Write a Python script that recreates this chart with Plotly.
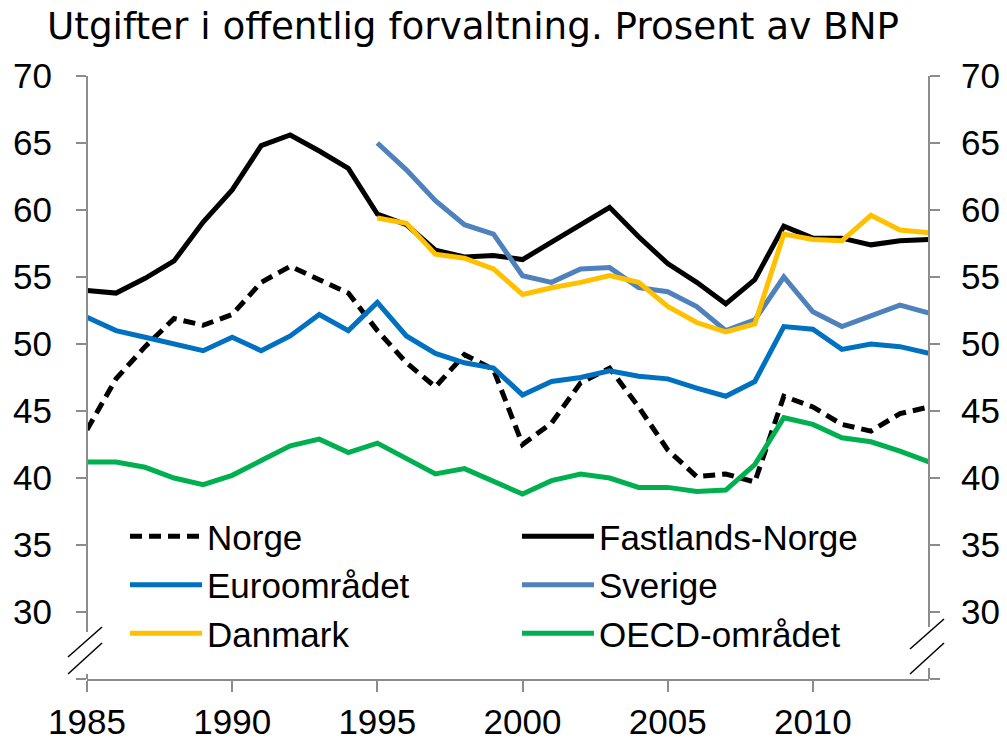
import plotly.graph_objects as go

years = list(range(1985, 2015))
years_95 = list(range(1995, 2015))

norge = [43.6, 47.4, 49.8, 51.9, 51.4, 52.2, 54.6, 55.8, 54.8, 53.8,
         51.0, 48.6, 46.8, 49.2, 48.1, 42.5, 44.1, 47.1, 48.2, 45.3,
         42.1, 40.1, 40.3, 39.7, 46.1, 45.3, 44.0, 43.5, 44.8, 45.3]
fastland = [54.0, 53.8, 54.9, 56.2, 59.1, 61.5, 64.8, 65.6, 64.4, 63.1,
            59.7, 58.9, 57.0, 56.5, 56.6, 56.3, 57.6, 58.9, 60.2, 58.0,
            56.0, 54.6, 53.0, 54.8, 58.8, 57.9, 57.9, 57.4, 57.7, 57.8]
euro = [52.0, 51.0, 50.5, 50.0, 49.5, 50.5, 49.5, 50.6, 52.2, 51.0,
        53.1, 50.6, 49.3, 48.6, 48.2, 46.2, 47.2, 47.5, 48.0, 47.6,
        47.4, 46.7, 46.1, 47.2, 51.3, 51.1, 49.6, 50.0, 49.8, 49.3]
sverige = [65.0, 63.0, 60.7, 58.9, 58.2, 55.1, 54.6, 55.6, 55.7, 54.2,
           53.9, 52.8, 51.0, 51.8, 55.0, 52.4, 51.3, 52.1, 52.9, 52.3]
danmark = [59.4, 59.0, 56.7, 56.4, 55.6, 53.7, 54.2, 54.6, 55.1, 54.6,
           52.8, 51.6, 50.9, 51.5, 58.2, 57.8, 57.7, 59.6, 58.5, 58.3]
oecd = [41.2, 41.2, 40.8, 40.0, 39.5, 40.2, 41.3, 42.4, 42.9, 41.9,
        42.6, 41.5, 40.3, 40.7, 39.7, 38.8, 39.8, 40.3, 40.0, 39.3,
        39.3, 39.0, 39.1, 41.0, 44.5, 44.0, 43.0, 42.7, 42.0, 41.2]

title_text = "Utgifter i offentlig forvaltning. Prosent av BNP"
y_tickvals = [25, 30, 35, 40, 45, 50, 55, 60, 65, 70]
y_ticktext = ["", "30", "35", "40", "45", "50", "55", "60", "65", "70"]
x_tickvals = [1985, 1990, 1995, 2000, 2005, 2010]

AXC = "#8c8c8c"
LW = 5
OFF = 8  # page body margin
W, H = 1007 - OFF, 739 - OFF

fig = go.Figure()
fig.add_trace(go.Scatter(x=years, y=norge, name="Norge", mode="lines",
                         line=dict(color="black", width=LW, dash="12px,7px")))
fig.add_trace(go.Scatter(x=years, y=fastland, name="Fastlands-Norge", mode="lines",
                         line=dict(color="black", width=LW)))
fig.add_trace(go.Scatter(x=years, y=euro, name="Euroområdet", mode="lines",
                         line=dict(color="#0070C0", width=LW)))
fig.add_trace(go.Scatter(x=years_95, y=sverige, name="Sverige", mode="lines",
                         line=dict(color="#4F81BD", width=LW)))
fig.add_trace(go.Scatter(x=years_95, y=danmark, name="Danmark", mode="lines",
                         line=dict(color="#FFC000", width=LW)))
fig.add_trace(go.Scatter(x=years, y=oecd, name="OECD-området", mode="lines",
                         line=dict(color="#00B050", width=LW)))
# dummy trace for right axis
fig.add_trace(go.Scatter(x=[years[0]], y=[None], yaxis="y2", showlegend=False,
                         hoverinfo="skip", mode="lines"))

tickfont = dict(family="Liberation Sans, Arial, sans-serif", size=35, color="black")

fig.update_layout(
    width=W, height=H,
    margin=dict(l=87 - OFF, r=78, t=76 - OFF, b=60, autoexpand=False),
    paper_bgcolor="white", plot_bgcolor="white",
    title=dict(text=title_text, x=(47 - OFF) / W, xanchor="left", xref="container",
               y=1 - (26 - OFF) / H, yanchor="middle", yref="container",
               font=dict(family="DejaVu Sans, Verdana, sans-serif", size=37.3, color="black")),
    xaxis=dict(range=[1985, 2014], tickvals=x_tickvals, ticks="outside", ticklen=11,
               tickwidth=2, tickcolor=AXC, showline=True, linecolor=AXC, linewidth=2,
               showgrid=False, zeroline=False, tickfont=tickfont, ticklabelstandoff=0,
               automargin=False),
    yaxis=dict(range=[25, 70], tickvals=y_tickvals, ticktext=y_ticktext, ticks="outside",
               ticklen=10, tickwidth=2, tickcolor=AXC, showline=False, showgrid=False,
               zeroline=False, tickfont=tickfont, ticklabelstandoff=17, automargin=False),
    yaxis2=dict(range=[25, 70], tickvals=y_tickvals, ticktext=y_ticktext, ticks="outside",
                ticklen=10, tickwidth=2, tickcolor=AXC, showline=False, showgrid=False,
                zeroline=False, tickfont=tickfont, overlaying="y", side="right",
                ticklabelstandoff=14, automargin=False),
    legend=dict(orientation="h", x=(125 - 87) / 842, xanchor="left",
                y=1 - (507 - 76) / 603, yanchor="top",
                font=dict(family="Liberation Sans, Arial, sans-serif", size=35, color="black"),
                itemwidth=72, entrywidth=305, entrywidthmode="pixels",
                bgcolor="rgba(0,0,0,0)", traceorder="normal"),
    showlegend=True,
)

# broken y-axis lines
shapes = []
def vline(xp, y0, y1):
    shapes.append(dict(type="line", xref="paper", yref="y", x0=xp, x1=xp, y0=y0, y1=y1,
                       line=dict(color=AXC, width=2)))
vline(0, 28.5, 70)
vline(0, 25, 25.37)
vline(1, 28.88, 70)
vline(1, 25, 25.82)

def bline(x0p, y0, x1p, y1):
    shapes.append(dict(type="line", xref="paper", yref="y",
                       x0=(x0p - 87) / 842, x1=(x1p - 87) / 842, y0=y0, y1=y1,
                       line=dict(color="black", width=1.5)))
bline(68, 26.64, 102, 28.88)
bline(68, 25.37, 102, 27.69)
bline(910, 27.24, 944, 29.48)
bline(910, 25.37, 944, 27.69)
fig.update_layout(shapes=shapes)

fig.write_html("out.html")
